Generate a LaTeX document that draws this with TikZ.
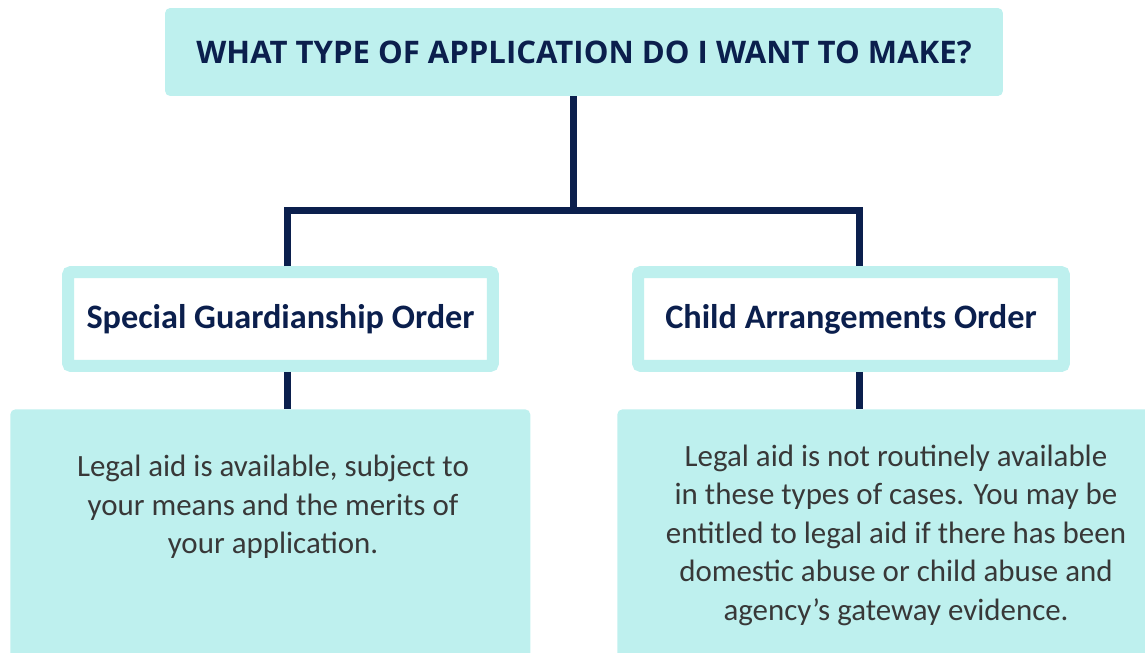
\documentclass[tikz,border=0pt]{standalone}
\usepackage{fontspec}
\setmainfont{Carlito}
\newfontfamily\headfont{Open Sans}
\usetikzlibrary{positioning}
\definecolor{paleteal}{HTML}{BEF0EE}
\definecolor{navy}{HTML}{0B1F4D}
\definecolor{bodygrey}{HTML}{383838}

\begin{document}
\begin{tikzpicture}[x=0.02cm,y=-0.02cm,
    headbox/.style={rectangle,fill=paleteal,rounded corners=0.1cm,minimum width=16.76cm,minimum height=1.76cm,text=navy,font=\headfont\bfseries\fontsize{17.7}{21}\selectfont},
    orderbox/.style={rectangle,draw=paleteal,line width=0.24cm,fill=white,rounded corners=0.06cm,minimum height=1.88cm,text=navy,font=\bfseries\fontsize{19.5}{23}\selectfont},
    infobox/.style={rectangle,fill=paleteal,rounded corners=0.1cm,minimum height=6cm,anchor=north west},
    infotext/.style={align=center,text=bodygrey,font=\fontsize{17.6}{21.9}\selectfont},
    link/.style={draw=navy,line width=0.14cm}]
  \clip (0,0) rectangle (1145,652);

  % question and the two kinds of order
  \node[headbox] (question) at (584,52) {WHAT TYPE OF APPLICATION DO I WANT TO MAKE?};
  \node[orderbox,minimum width=8.5cm] (sgo) at (280.5,319) {Special Guardianship Order};
  \node[orderbox,minimum width=8.52cm] (cao) at (851,319) {Child Arrangements Order};

  % legal aid notes
  \node[infobox,minimum width=10.4cm] (sgoinfo) at (10,409) {};
  \node[infobox,minimum width=11cm] (caoinfo) at (617,409) {};
  \node[infotext] (sgotext) at (273,507) {Legal aid is available, subject to\\your means and the merits of\\your application.};
  \node[infotext] (caotext) at (896,535) {Legal aid is not routinely available\\in these types of cases. You may be\\entitled to legal aid if there has been\\domestic abuse or child abuse and\\agency’s gateway evidence.};

  % tree lines
  \coordinate (fork) at (573,210);
  \coordinate (forkl) at (287,210);
  \coordinate (forkr) at (859,210);
  \draw[link] (question.south -| fork) -- (fork);
  \draw[link] (sgo.north -| forkl) |- (forkr) -- (cao.north -| forkr);
  \draw[link] (sgo.south -| forkl) -- (sgoinfo.north -| forkl);
  \draw[link] (cao.south -| forkr) -- (caoinfo.north -| forkr);
\end{tikzpicture}
\end{document}
